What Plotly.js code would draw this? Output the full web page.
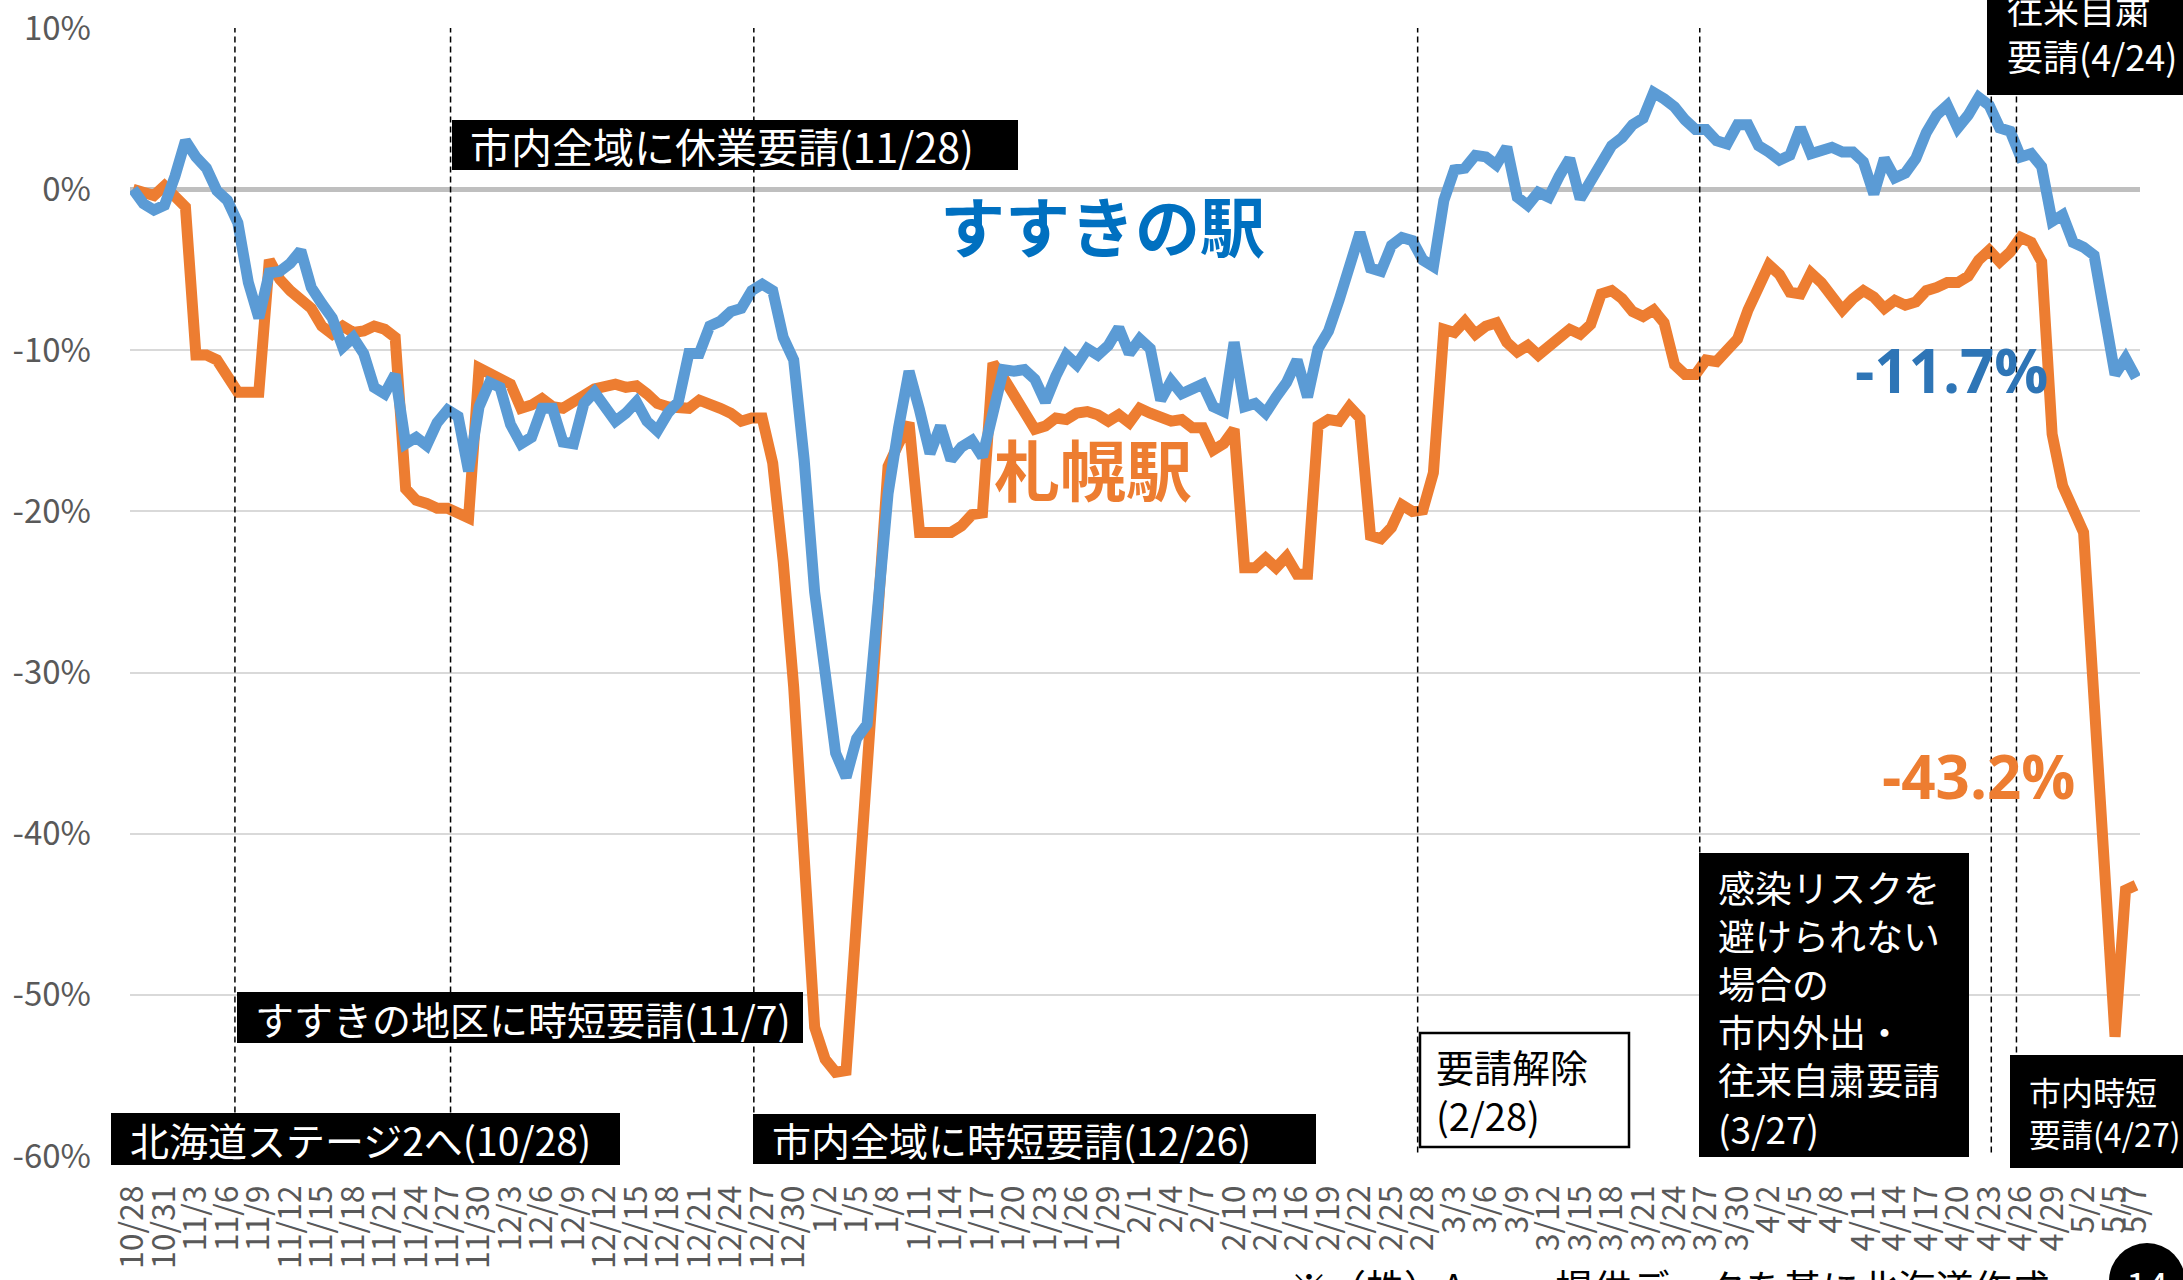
<!DOCTYPE html>
<html><head><meta charset="utf-8">
<script src="https://cdn.plot.ly/plotly-3.0.1.min.js"></script>
<style>html,body{margin:0;padding:0;background:#fff;overflow:hidden}#chart{width:2183px;height:1280px}</style>
</head><body><div id="chart"></div>
<script>
// ---- categories (daily, 10/28 - 5/7) ----
const dates = [
'10/28','10/29','10/30','10/31',
'11/1','11/2','11/3','11/4','11/5','11/6','11/7','11/8','11/9','11/10','11/11','11/12','11/13','11/14','11/15','11/16','11/17','11/18','11/19','11/20','11/21','11/22','11/23','11/24','11/25','11/26','11/27','11/28','11/29','11/30',
'12/1','12/2','12/3','12/4','12/5','12/6','12/7','12/8','12/9','12/10','12/11','12/12','12/13','12/14','12/15','12/16','12/17','12/18','12/19','12/20','12/21','12/22','12/23','12/24','12/25','12/26','12/27','12/28','12/29','12/30','12/31',
'1/1','1/2','1/3','1/4','1/5','1/6','1/7','1/8','1/9','1/10','1/11','1/12','1/13','1/14','1/15','1/16','1/17','1/18','1/19','1/20','1/21','1/22','1/23','1/24','1/25','1/26','1/27','1/28','1/29','1/30','1/31',
'2/1','2/2','2/3','2/4','2/5','2/6','2/7','2/8','2/9','2/10','2/11','2/12','2/13','2/14','2/15','2/16','2/17','2/18','2/19','2/20','2/21','2/22','2/23','2/24','2/25','2/26','2/27','2/28',
'3/1','3/2','3/3','3/4','3/5','3/6','3/7','3/8','3/9','3/10','3/11','3/12','3/13','3/14','3/15','3/16','3/17','3/18','3/19','3/20','3/21','3/22','3/23','3/24','3/25','3/26','3/27','3/28','3/29','3/30','3/31',
'4/1','4/2','4/3','4/4','4/5','4/6','4/7','4/8','4/9','4/10','4/11','4/12','4/13','4/14','4/15','4/16','4/17','4/18','4/19','4/20','4/21','4/22','4/23','4/24','4/25','4/26','4/27','4/28','4/29','4/30',
'5/1','5/2','5/3','5/4','5/5','5/6','5/7'];

// ---- series: change rate (%) ----
const susukino = [
0.0,-0.9,-1.3,-1.0,0.8,3.0,2.0,1.3,-0.1,-0.7,
-2.1,-5.8,-8.0,-5.2,-5.1,-4.6,-3.8,-6.1,-7.1,-8.0,
-9.8,-9.2,-10.2,-12.3,-12.7,-11.5,-15.8,-15.4,-15.9,-14.5,
-13.7,-14.1,-17.5,-13.5,-12.0,-12.3,-14.6,-15.8,-15.4,-13.6,
-13.6,-15.7,-15.8,-13.3,-12.6,-13.5,-14.4,-13.9,-13.2,-14.4,
-15.0,-13.9,-13.2,-10.2,-10.2,-8.5,-8.2,-7.6,-7.4,-6.3,
-5.9,-6.3,-9.2,-10.6,-16.8,-25.0,-30.3,-35.0,-36.5,-34.1,
-33.2,-25.6,-18.9,-14.8,-11.3,-13.7,-16.4,-14.7,-16.8,-16.0,
-15.6,-16.6,-13.5,-11.2,-11.3,-11.2,-11.8,-13.2,-11.6,-10.3,
-10.9,-9.9,-10.3,-9.7,-8.6,-10.2,-9.3,-9.9,-13.1,-11.9,
-12.7,-12.3,-12.1,-13.5,-13.8,-9.5,-13.5,-13.3,-13.9,-12.9,
-12.0,-10.6,-12.9,-9.9,-8.8,-6.9,-4.8,-2.7,-4.9,-5.1,
-3.5,-3.0,-3.2,-4.4,-4.8,-0.7,1.2,1.3,2.1,2.0,
1.5,2.6,-0.5,-1.0,-0.2,-0.5,0.8,1.9,-0.6,0.6,
1.6,2.7,3.2,4.0,4.4,6.0,5.6,5.1,4.3,3.7,
3.7,3.0,2.8,4.0,4.0,2.7,2.3,1.8,2.1,3.8,
2.2,2.4,2.6,2.3,2.3,1.7,-0.3,1.9,0.7,1.0,
1.9,3.5,4.6,5.2,3.8,4.6,5.7,5.2,3.8,3.6,
2.0,2.2,1.4,-2.0,-1.6,-3.3,-3.6,-4.1,-7.8,-11.5,
-10.5,-11.7];

const sapporo = [
0.0,-0.2,-0.4,0.2,-0.4,-1.1,-10.3,-10.3,-10.6,-11.6,
-12.6,-12.6,-12.6,-4.4,-5.6,-6.3,-6.9,-7.4,-8.5,-9.0,
-8.5,-8.9,-8.8,-8.5,-8.7,-9.2,-18.6,-19.3,-19.5,-19.8,
-19.8,-20.1,-20.4,-11.1,-11.5,-11.7,-12.1,-13.6,-13.4,-13.0,
-13.5,-13.6,-13.1,-12.8,-12.4,-12.3,-12.1,-12.3,-12.2,-12.7,
-13.3,-13.5,-13.6,-13.6,-13.1,-13.3,-13.6,-13.9,-14.4,-14.2,
-14.2,-17.0,-23.1,-30.9,-40.9,-52.0,-54.0,-54.8,-54.7,-45.5,
-36.0,-26.6,-17.2,-15.8,-14.5,-21.3,-21.3,-21.4,-21.3,-20.9,
-20.2,-20.1,-10.8,-11.7,-12.7,-13.7,-14.9,-14.7,-14.2,-14.3,
-13.9,-13.8,-14.0,-14.4,-14.0,-14.5,-13.6,-13.9,-14.2,-14.4,
-14.3,-14.8,-14.8,-16.2,-15.8,-14.9,-23.5,-23.5,-22.9,-23.5,
-22.8,-23.9,-23.9,-14.7,-14.3,-14.4,-13.5,-14.2,-21.5,-21.7,
-21.0,-19.6,-20.0,-19.9,-17.6,-8.7,-8.9,-8.2,-9.0,-8.5,
-8.3,-9.5,-10.1,-9.7,-10.3,-9.7,-9.2,-8.7,-9.0,-8.4,
-6.5,-6.3,-6.8,-7.6,-7.9,-7.5,-8.3,-10.9,-11.5,-11.5,
-10.6,-10.7,-10.0,-9.3,-7.5,-6.1,-4.7,-5.3,-6.4,-6.5,
-5.2,-5.8,-6.7,-7.5,-6.8,-6.3,-6.7,-7.4,-6.9,-7.2,
-7.0,-6.3,-6.1,-5.8,-5.8,-5.4,-4.4,-3.8,-4.5,-3.9,
-3.0,-3.3,-4.5,-15.2,-18.4,-19.8,-21.3,-31.7,-42.2,-52.6,
-43.5,-43.2];

// ---- tick labels ----
const tickLabels = ['10/28','10/31','11/3','11/6','11/9','11/12','11/15','11/18','11/21','11/24','11/27','11/30',
'12/3','12/6','12/9','12/12','12/15','12/18','12/21','12/24','12/27','12/30','1/2','1/5','1/8','1/11','1/14',
'1/17','1/20','1/23','1/26','1/29','2/1','2/4','2/7','2/10','2/13','2/16','2/19','2/22','2/25','2/28','3/3',
'3/6','3/9','3/12','3/15','3/18','3/21','3/24','3/27','3/30','4/2','4/5','4/8','4/11','4/14','4/17','4/20',
'4/23','4/26','4/29','5/2','5/5','5/7'];
const yTicks = [10,0,-10,-20,-30,-40,-50,-60];
const yTickText = ['10%','0%','-10%','-20%','-30%','-40%','-50%','-60%'];

// event marker lines (position on the category scale as drawn)
const eventPos = [-2.05, 9.72, 30.28, 59.2, 122.5, 149.4, 177.2, 179.6];

const FONT = '"Noto Sans CJK JP", "Noto Sans", sans-serif';
const L = 130, R = 2140, T = 28, B = 1156;
const px = x => (x - L) / (R - L);
const py = y => (B - y) / (B - T);

const traces = [
  {x: dates, y: sapporo, type: 'scatter', mode: 'lines', name: '札幌駅',
   line: {color: '#ED7D31', width: 11, shape: 'linear'}, hoverinfo: 'skip'},
  {x: dates, y: susukino, type: 'scatter', mode: 'lines', name: 'すすきの駅',
   line: {color: '#5B9BD5', width: 11, shape: 'linear'}, hoverinfo: 'skip'}
];

const shapes = [];
eventPos.forEach(p => shapes.push({type: 'line', xref: 'x', yref: 'y', x0: p, x1: p, y0: -60.4, y1: 10.6,
  line: {color: '#000', width: 1.5, dash: '6px,4px'}, layer: 'above'}));

function box(x0, y0, x1, y1, fill, border) {
  shapes.push({type: 'rect', xref: 'paper', yref: 'paper', x0: px(x0), x1: px(x1), y0: py(y1), y1: py(y0),
    fillcolor: fill, line: {color: '#000', width: border || 0}, layer: 'above'});
}
box(452, 120, 1018, 170, '#000');
box(237, 992, 803, 1043, '#000');
box(111, 1113, 620, 1165, '#000');
box(753, 1114, 1316, 1164, '#000');
box(1420, 1033, 1629, 1147, '#fff', 2.5);
box(1699, 853, 1969, 1157, '#000');
box(2010, 1055, 2200, 1168, '#000');
box(1987, -20, 2200, 95, '#000');
shapes.push({type: 'circle', xref: 'paper', yref: 'paper', x0: px(2109), x1: px(2185), y0: py(1319), y1: py(1243),
  fillcolor: '#000', line: {width: 0}, layer: 'above'});

const annotations = [];
function txt(text, x, y, size, color, opts) {
  annotations.push(Object.assign({text: text, xref: 'paper', yref: 'paper', x: px(x), y: py(y),
    xanchor: 'left', yanchor: 'middle', showarrow: false, align: 'left',
    font: {family: FONT, size: size, color: color}}, opts || {}));
}
txt('市内全域に休業要請(11/28)', 468, 145, 41, '#fff');
txt('すすきの地区に時短要請(11/7)', 253, 1018, 39, '#fff');
txt('北海道ステージ2へ(10/28)', 128, 1139, 39, '#fff');
txt('市内全域に時短要請(12/26)', 770, 1139, 39, '#fff');
txt('要請解除<br>(2/28)', 1434, 1090, 38, '#000');
txt('感染リスクを<br>避けられない<br>場合の<br>市内外出・<br>往来自粛要請<br>(3/27)', 1716, 1007, 37, '#fff');
txt('市内時短<br>要請(4/27)', 2027, 1112, 32, '#fff');
txt('往来自粛<br>要請(4/24)', 2005, 32, 36, '#fff');
txt('すすきの駅', 938, 224, 64, '#0070C0', {font: {family: FONT, size: 65, color: '#0070C0', weight: 'bold'}});
txt('札幌駅', 992, 467, 64, '#ED7D31', {font: {family: FONT, size: 66, color: '#ED7D31', weight: 'bold'}});
txt('-11.7%', 1853, 370, 60, '#2E75B6', {font: {family: '"Open Sans", sans-serif', size: 60, color: '#2E75B6', weight: 'bold'}});
txt('-43.2%', 1880, 776, 60, '#ED7D31', {font: {family: '"Open Sans", sans-serif', size: 60, color: '#ED7D31', weight: 'bold'}});
txt('※（株）Agoop提供データを基に北海道作成', 1288, 1285, 38, '#000');
annotations.push({text: '14', xref: 'paper', yref: 'paper', x: px(2147), y: py(1283), xanchor: 'center', yanchor: 'middle',
  showarrow: false, font: {family: FONT, size: 38, color: '#fff'}});

const layout = {
  width: 2183, height: 1280,
  margin: {l: L, r: 2183 - R, t: T, b: 1280 - B, pad: 0},
  paper_bgcolor: '#fff', plot_bgcolor: '#fff',
  showlegend: false,
  font: {family: FONT, color: '#595959'},
  xaxis: {type: 'category', range: [-0.286, 191.38], showgrid: false, zeroline: false, showline: false,
    tickmode: 'array', tickvals: tickLabels, ticktext: tickLabels, tickangle: -90, ticks: '',
    ticklabelstandoff: 22, tickfont: {family: FONT, size: 32, color: '#595959'}},
  yaxis: {range: [-60, 10], tickmode: 'array', tickvals: yTicks, ticktext: yTickText,
    showgrid: true, gridcolor: '#D9D9D9', gridwidth: 2,
    zeroline: true, zerolinecolor: '#BFBFBF', zerolinewidth: 5, showline: false, ticks: '',
    ticklabelstandoff: 38, tickfont: {family: FONT, size: 33, color: '#595959'}},
  shapes: shapes,
  annotations: annotations
};

Plotly.newPlot('chart', traces, layout, {staticPlot: true, displayModeBar: false});
</script></body></html>
